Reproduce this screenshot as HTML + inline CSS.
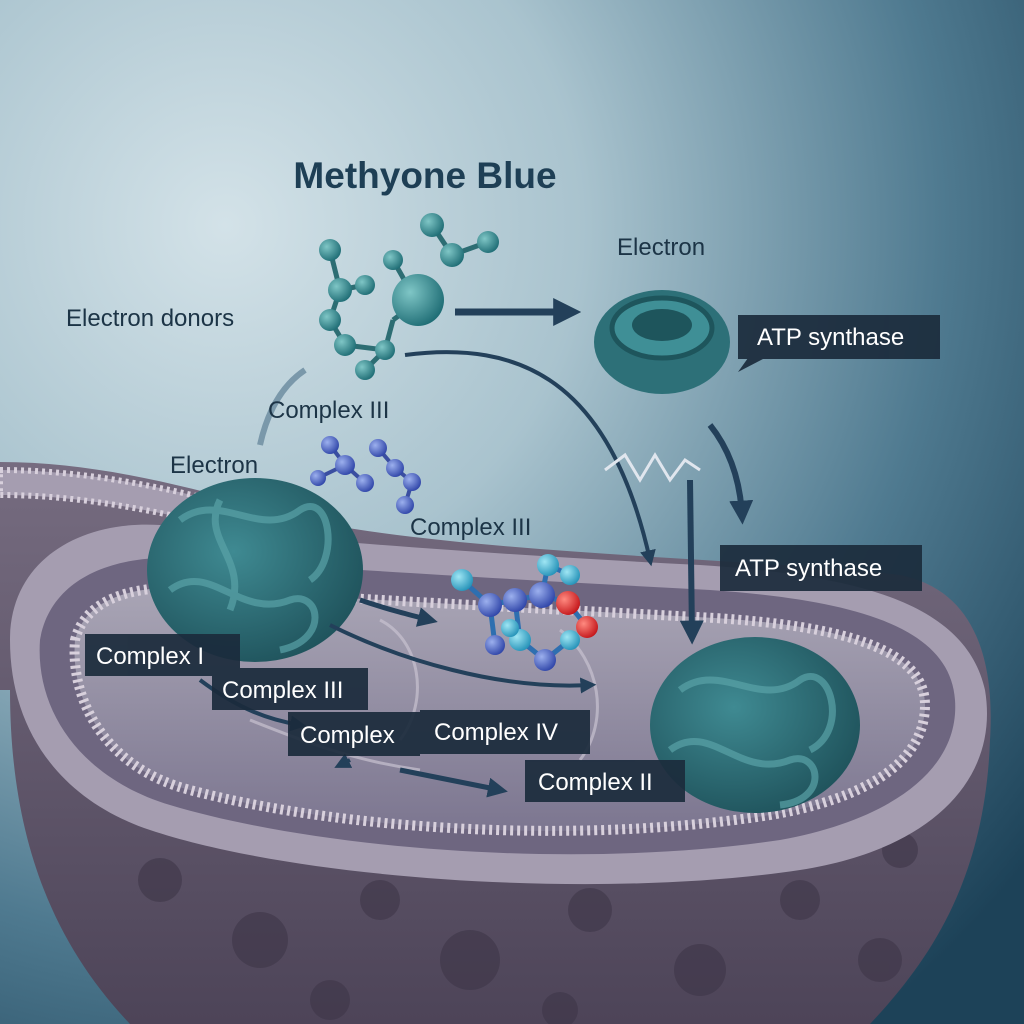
<!DOCTYPE html>
<html><head><meta charset="utf-8"><style>
html,body{margin:0;padding:0;width:1024px;height:1024px;overflow:hidden}
svg{display:block}
.lbl{font-family:"Liberation Sans",sans-serif;font-size:24px;fill:#fff}
.dk{font-family:"Liberation Sans",sans-serif;font-size:24px;fill:#1c3446}
</style></head><body>
<svg width="1024" height="1024" viewBox="0 0 1024 1024" xmlns="http://www.w3.org/2000/svg">
<defs>
<radialGradient id="bg" cx="0.22" cy="0.22" r="1.0">
<stop offset="0" stop-color="#d3e2e8"/><stop offset="0.35" stop-color="#a9c3ce"/><stop offset="0.7" stop-color="#4f7a90"/><stop offset="1" stop-color="#1d4258"/></radialGradient>
<linearGradient id="body" x1="0" y1="0" x2="0" y2="1"><stop offset="0" stop-color="#766c80"/><stop offset="1" stop-color="#4d4458"/></linearGradient>
<linearGradient id="cav" x1="0" y1="0" x2="0" y2="1"><stop offset="0" stop-color="#a9a5b5"/><stop offset="1" stop-color="#7c7690"/></linearGradient>
<radialGradient id="prot" cx="0.4" cy="0.4" r="0.7"><stop offset="0" stop-color="#3f8a92"/><stop offset="1" stop-color="#1d4f58"/></radialGradient>
<radialGradient id="ball" cx="0.35" cy="0.35" r="0.7"><stop offset="0" stop-color="#7fc6c6"/><stop offset="1" stop-color="#1f6d75"/></radialGradient>
<radialGradient id="bball" cx="0.35" cy="0.35" r="0.7"><stop offset="0" stop-color="#9cb0ee"/><stop offset="1" stop-color="#2f45a8"/></radialGradient>
<radialGradient id="cball" cx="0.35" cy="0.35" r="0.7"><stop offset="0" stop-color="#9fe6f4"/><stop offset="1" stop-color="#2592b8"/></radialGradient>
<radialGradient id="rball" cx="0.35" cy="0.35" r="0.7"><stop offset="0" stop-color="#ff8a80"/><stop offset="1" stop-color="#c4161a"/></radialGradient>
<marker id="ah" viewBox="0 0 10 10" refX="6" refY="5" markerWidth="4" markerHeight="4" orient="auto"><path d="M0,0L10,5L0,10z" fill="#23405a"/></marker>
</defs>
<rect width="1024" height="1024" fill="url(#bg)"/>

<!-- mitochondrion body -->
<path d="M0,462 C120,462 230,500 330,525 C500,555 780,560 900,575 C975,590 995,660 990,740 C985,880 930,960 870,1024 L130,1024 C60,950 10,850 10,690 L0,690 Z" fill="url(#body)"/>
<!-- spots -->
<g fill="#3e3648" opacity="0.6">
<circle cx="160" cy="880" r="22"/><circle cx="260" cy="940" r="28"/><circle cx="380" cy="900" r="20"/><circle cx="470" cy="960" r="30"/><circle cx="590" cy="910" r="22"/><circle cx="700" cy="970" r="26"/><circle cx="800" cy="900" r="20"/><circle cx="900" cy="850" r="18"/><circle cx="100" cy="780" r="18"/><circle cx="330" cy="1000" r="20"/><circle cx="560" cy="1010" r="18"/><circle cx="880" cy="960" r="22"/><circle cx="940" cy="760" r="16"/>
</g>
<!-- outer rim band -->
<path d="M10,640 C10,560 80,520 160,525 C300,540 500,555 700,565 C850,575 965,600 985,690 C1000,780 930,850 800,870 C600,900 300,880 150,830 C60,800 10,730 10,640 Z" fill="#a59db0"/>
<path d="M40,640 C50,580 110,555 180,558 C320,568 520,580 710,590 C850,600 950,625 955,700 C960,770 890,820 780,840 C580,870 320,850 170,805 C80,778 35,710 40,640 Z" fill="#6e6680"/>
<!-- inner membrane beads -->
<path d="M75,640 C85,600 130,585 190,588 C330,598 530,608 715,618 C840,626 925,648 925,705 C925,765 860,800 770,815 C580,845 340,830 190,790 C105,768 70,700 75,640 Z" fill="url(#cav)" stroke="#d8d0dc" stroke-width="10" stroke-dasharray="3 4"/>
<!-- left tube top -->
<path d="M0,470 C120,470 230,505 330,530 L330,548 C220,530 120,495 0,495 Z" fill="#a59db0" stroke="#d8d0dc" stroke-width="6" stroke-dasharray="3 4"/>
<!-- cristae -->
<g fill="none" stroke="#c8c2d0" stroke-width="3" opacity="0.7">
<path d="M380,620 C420,640 430,700 400,740"/><path d="M560,630 C600,660 610,720 580,760"/><path d="M250,720 C300,740 350,760 420,770"/>
</g>

<!-- proteins -->
<g>
<ellipse cx="255" cy="570" rx="108" ry="92" fill="url(#prot)"/>
<g fill="none" stroke="#5aa3a8" stroke-width="7" opacity="0.7">
<path d="M180,520 C220,490 260,540 300,510 C330,490 340,560 310,580"/>
<path d="M170,590 C210,560 240,620 290,600 C320,590 330,640 280,650"/>
<path d="M220,500 C200,540 250,560 230,610"/>
</g>
<ellipse cx="755" cy="725" rx="105" ry="88" fill="url(#prot)"/>
<g fill="none" stroke="#5aa3a8" stroke-width="7" opacity="0.7">
<path d="M680,690 C720,660 760,710 800,680 C830,660 850,730 810,750"/>
<path d="M670,750 C710,720 740,780 790,760 C820,750 830,800 780,805"/>
</g>
</g>

<!-- ATP synthase top -->
<ellipse cx="662" cy="342" rx="68" ry="52" fill="#2d7078"/>
<ellipse cx="662" cy="328" rx="50" ry="30" fill="#3f8f96" stroke="#1e555c" stroke-width="5"/>
<ellipse cx="662" cy="325" rx="30" ry="16" fill="#1e555c"/>

<!-- arrows -->
<g fill="none" stroke="#23405a" stroke-width="7" marker-end="url(#ah)">
<path d="M455,312 L570,312"/>
<path d="M405,355 C520,340 610,380 650,560" stroke-width="4"/>
<path d="M710,425 C730,450 740,480 742,515" stroke-width="6"/>
<path d="M690,480 L692,635" stroke-width="6"/>
<path d="M360,600 C390,610 410,615 430,620" stroke-width="5"/>
<path d="M330,625 C400,660 500,690 590,685" stroke-width="4"/>
<path d="M200,680 C240,710 270,720 300,725" stroke-width="4"/>
<path d="M400,770 L500,790" stroke-width="5"/>
<path d="M350,760 L340,765" stroke-width="4"/>
</g>
<path d="M260,445 C270,400 290,380 305,370" fill="none" stroke="#7a98aa" stroke-width="6"/>
<path d="M605,470 L625,455 L640,480 L655,455 L670,480 L685,460 L700,470" fill="none" stroke="#e0e6ee" stroke-width="3"/>

<!-- teal molecule -->
<g stroke="#2d6d73" stroke-width="5">
<line x1="330" y1="250" x2="340" y2="290"/><line x1="340" y1="290" x2="365" y2="285"/><line x1="340" y1="290" x2="330" y2="320"/><line x1="330" y1="320" x2="345" y2="345"/><line x1="345" y1="345" x2="385" y2="350"/><line x1="385" y1="350" x2="393" y2="320"/><line x1="393" y1="320" x2="420" y2="300"/><line x1="432" y1="225" x2="452" y2="255"/><line x1="452" y1="255" x2="488" y2="242"/><line x1="365" y1="370" x2="385" y2="350"/><line x1="393" y1="260" x2="410" y2="290"/>
</g>
<g>
<circle cx="330" cy="250" r="11" fill="url(#ball)"/><circle cx="340" cy="290" r="12" fill="url(#ball)"/><circle cx="365" cy="285" r="10" fill="url(#ball)"/><circle cx="330" cy="320" r="11" fill="url(#ball)"/><circle cx="345" cy="345" r="11" fill="url(#ball)"/><circle cx="385" cy="350" r="10" fill="url(#ball)"/><circle cx="393" cy="260" r="10" fill="url(#ball)"/><circle cx="365" cy="370" r="10" fill="url(#ball)"/><circle cx="418" cy="300" r="26" fill="url(#ball)"/><circle cx="432" cy="225" r="12" fill="url(#ball)"/><circle cx="452" cy="255" r="12" fill="url(#ball)"/><circle cx="488" cy="242" r="11" fill="url(#ball)"/>
</g>
<!-- small blue molecules -->
<g stroke="#3a4ea0" stroke-width="4">
<line x1="330" y1="445" x2="345" y2="465"/><line x1="345" y1="465" x2="318" y2="478"/><line x1="345" y1="465" x2="365" y2="483"/><line x1="378" y1="448" x2="395" y2="468"/><line x1="395" y1="468" x2="412" y2="482"/><line x1="412" y1="482" x2="405" y2="505"/>
</g>
<g>
<circle cx="330" cy="445" r="9" fill="url(#bball)"/><circle cx="345" cy="465" r="10" fill="url(#bball)"/><circle cx="318" cy="478" r="8" fill="url(#bball)"/><circle cx="365" cy="483" r="9" fill="url(#bball)"/><circle cx="378" cy="448" r="9" fill="url(#bball)"/><circle cx="395" cy="468" r="9" fill="url(#bball)"/><circle cx="412" cy="482" r="9" fill="url(#bball)"/><circle cx="405" cy="505" r="9" fill="url(#bball)"/>
</g>
<!-- colorful molecule -->
<g stroke="#2e6fb0" stroke-width="5">
<line x1="462" y1="580" x2="490" y2="605"/><line x1="490" y1="605" x2="515" y2="600"/><line x1="515" y1="600" x2="542" y2="595"/><line x1="542" y1="595" x2="548" y2="565"/><line x1="548" y1="565" x2="570" y2="575"/><line x1="542" y1="595" x2="568" y2="603"/><line x1="568" y1="603" x2="587" y2="627"/><line x1="515" y1="600" x2="520" y2="640"/><line x1="520" y1="640" x2="545" y2="660"/><line x1="545" y1="660" x2="570" y2="640"/><line x1="490" y1="605" x2="495" y2="645"/>
</g>
<g>
<circle cx="462" cy="580" r="11" fill="url(#cball)"/><circle cx="490" cy="605" r="12" fill="url(#bball)"/><circle cx="515" cy="600" r="12" fill="url(#bball)"/><circle cx="542" cy="595" r="13" fill="url(#bball)"/><circle cx="548" cy="565" r="11" fill="url(#cball)"/><circle cx="570" cy="575" r="10" fill="url(#cball)"/><circle cx="568" cy="603" r="12" fill="url(#rball)"/><circle cx="587" cy="627" r="11" fill="url(#rball)"/><circle cx="520" cy="640" r="11" fill="url(#cball)"/><circle cx="545" cy="660" r="11" fill="url(#bball)"/><circle cx="570" cy="640" r="10" fill="url(#cball)"/><circle cx="495" cy="645" r="10" fill="url(#bball)"/><circle cx="510" cy="628" r="9" fill="url(#cball)"/>
</g>

<!-- dark text -->
<text x="425" y="188" text-anchor="middle" font-family="Liberation Sans,sans-serif" font-size="37" font-weight="bold" fill="#1e3f55">Methyone Blue</text>
<text class="dk" x="617" y="255">Electron</text>
<text class="dk" x="66" y="326">Electron donors</text>
<text class="dk" x="268" y="418">Complex III</text>
<text class="dk" x="170" y="473">Electron</text>
<text class="dk" x="410" y="535">Complex III</text>

<!-- dark label boxes -->
<g fill="#1b2b3c" opacity="0.92">
<rect x="738" y="315" width="202" height="44"/><path d="M748,358 L738,372 L765,358z"/>
<rect x="720" y="545" width="202" height="46"/>
<rect x="85" y="634" width="155" height="42"/>
<rect x="212" y="668" width="156" height="42"/>
<rect x="288" y="712" width="132" height="44"/>
<rect x="420" y="710" width="170" height="44"/>
<rect x="525" y="760" width="160" height="42"/>
</g>
<text class="lbl" x="757" y="345">ATP synthase</text>
<text class="lbl" x="735" y="576">ATP synthase</text>
<text class="lbl" x="96" y="664">Complex I</text>
<text class="lbl" x="222" y="698">Complex III</text>
<text class="lbl" x="300" y="743">Complex</text>
<text class="lbl" x="434" y="740">Complex IV</text>
<text class="lbl" x="538" y="790">Complex II</text>
</svg>
</body></html>
